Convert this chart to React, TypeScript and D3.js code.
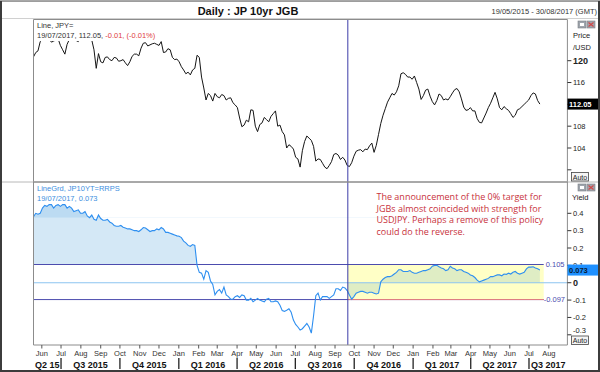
import React from "react";
import * as d3 from "d3";

const W = 600;
const H = 372;

const title = "Daily : JP 10yr JGB";
const rangeLabel = "19/05/2015 - 30/08/2017 (GMT)";

const axisStart = new Date(2015, 4, 19);
const axisEnd = new Date(2017, 7, 30);
const seriesStart = new Date(2015, 4, 19);
const policyDate = new Date(2016, 8, 21);
const bandEnd = new Date(2017, 6, 24);

// USDJPY: weekly closes, plus a mid-week reading between each pair
const priceWeekly = [
  120.7, 121.8, 123.9, 124.5, 123.4, 123.8, 122.8, 121.2, 123.9, 124.2,
  123.5, 124.4, 124.2, 123.8, 118.6, 119.8, 120.6, 120.2, 120.6, 119.9,
  120.2, 119.1, 120.8, 121.2, 122.3, 123.3, 122.9, 123.2, 122.8, 121.5,
  122.2, 120.6, 120.3, 118.9, 117.6, 117.4, 118.6, 120.6, 115.0, 114.0,
  112.6, 113.4, 113.8, 112.8, 113.2, 111.9, 109.5, 108.2, 108.8, 110.9,
  107.0, 108.6, 109.2, 109.8, 110.8, 108.2, 106.4, 104.6, 103.8, 102.0,
  103.5, 106.2, 105.4, 101.6, 101.9, 100.5, 100.8, 102.8, 102.7, 102.3,
  100.8, 101.3, 103.4, 103.7, 103.8, 104.4, 103.2, 106.5, 110.0, 112.4,
  114.0, 114.3, 117.6, 117.5, 117.0, 117.2, 114.8, 113.6, 114.8, 112.5,
  112.7, 113.6, 113.0, 113.4, 114.7, 114.3, 111.5, 111.0, 110.8, 109.4,
  108.6, 110.4, 112.2, 114.2, 111.4, 111.6, 110.9, 109.6, 111.0, 111.6,
  112.4, 113.6, 113.9, 112.05,
];
const priceMidweek = [
  121.5, 123.5, 124.8, 124.0, 123.6, 124.0, 122.0, 123.0, 124.4, 123.7,
  124.0, 124.6, 124.0, 122.0, 121.3, 119.6, 120.7, 120.0, 120.5, 120.0,
  119.6, 119.8, 121.2, 120.9, 123.2, 122.7, 123.1, 123.0, 123.5, 121.6,
  122.0, 120.2, 119.8, 118.3, 117.9, 118.3, 121.0, 117.0, 112.8, 113.6,
  114.0, 113.2, 113.6, 113.1, 112.3, 111.4, 107.9, 109.1, 111.0, 108.0,
  108.3, 109.6, 108.8, 110.3, 108.0, 107.0, 104.0, 104.3, 102.3, 100.5,
  105.2, 105.8, 104.3, 102.0, 101.2, 100.2, 101.5, 103.0, 101.9, 101.8,
  100.6, 102.5, 103.6, 103.3, 103.7, 104.9, 104.5, 108.5, 111.2, 113.2,
  113.7, 115.4, 117.8, 117.0, 116.6, 116.0, 112.9, 114.6, 113.5, 111.9,
  113.9, 112.8, 112.8, 114.1, 114.9, 113.0, 110.9, 111.4, 110.8, 108.7,
  109.5, 111.4, 113.2, 113.0, 111.0, 111.2, 110.3, 110.0, 111.2, 112.0,
  112.8, 114.1, 112.7,
];

// JP 10y yield, same sampling
const yieldWeekly = [
  0.38, 0.395, 0.43, 0.44, 0.45, 0.445, 0.44, 0.45, 0.44, 0.41,
  0.42, 0.4, 0.385, 0.39, 0.36, 0.37, 0.36, 0.35, 0.33, 0.325,
  0.32, 0.31, 0.305, 0.3, 0.305, 0.315, 0.295, 0.3, 0.305, 0.31,
  0.29, 0.28, 0.27, 0.26, 0.23, 0.21, 0.215, 0.06, 0.02, 0.06,
  -0.01, -0.05, -0.06, -0.07, -0.095, -0.08, -0.085, -0.075, -0.1, -0.11,
  -0.09, -0.105, -0.095, -0.11, -0.105, -0.13, -0.165, -0.15, -0.215, -0.255,
  -0.265, -0.235, -0.29, -0.075, -0.1, -0.08, -0.09, -0.07, -0.035, -0.025,
  -0.045, -0.095, -0.06, -0.05, -0.055, -0.055, -0.06, -0.06, 0.02, 0.035,
  0.04, 0.06, 0.075, 0.065, 0.07, 0.055, 0.06, 0.07, 0.075, 0.095,
  0.1, 0.085, 0.07, 0.095, 0.08, 0.075, 0.065, 0.055, 0.04, 0.015,
  0.01, 0.02, 0.035, 0.04, 0.045, 0.05, 0.055, 0.06, 0.055, 0.055,
  0.08, 0.09, 0.085, 0.073,
];
const yieldMidweek = [
  0.4, 0.4, 0.445, 0.45, 0.43, 0.45, 0.45, 0.43, 0.43, 0.415,
  0.4, 0.41, 0.375, 0.365, 0.39, 0.36, 0.365, 0.343, 0.325, 0.33,
  0.315, 0.31, 0.3, 0.295, 0.318, 0.305, 0.3, 0.31, 0.318, 0.29,
  0.285, 0.275, 0.268, 0.24, 0.215, 0.22, 0.1, 0.055, 0.07, 0.01,
  -0.07, -0.04, -0.025, -0.08, -0.095, -0.075, -0.07, -0.1, -0.09, -0.1,
  -0.1, -0.11, -0.09, -0.11, -0.11, -0.16, -0.158, -0.17, -0.24, -0.273,
  -0.25, -0.255, -0.19, -0.06, -0.08, -0.08, -0.08, -0.035, -0.045, -0.03,
  -0.07, -0.08, -0.055, -0.05, -0.06, -0.055, -0.065, 0.005, 0.03, 0.035,
  0.05, 0.075, 0.065, 0.065, 0.06, 0.055, 0.065, 0.07, 0.08, 0.1,
  0.092, 0.08, 0.075, 0.085, 0.07, 0.075, 0.06, 0.045, 0.03, 0.005,
  0.015, 0.025, 0.035, 0.045, 0.04, 0.048, 0.05, 0.065, 0.05, 0.06,
  0.09, 0.092, 0.08,
];

const priceTicks = [120, 116, 112, 108, 104, 100];
const priceTickLabels = ["120", "116", "", "108", "104", ""];
const yieldTicks = [0.4, 0.3, 0.2, 0.1, 0, -0.1, -0.2, -0.3];
const yieldTickLabels = ["0.4", "0.3", "0.2", "0.1", "0", "-0.1", "-0.2", "-0.3"];
const monthLabels = [
  "Jun", "Jul", "Aug", "Sep", "Oct", "Nov", "Dec",
  "Jan", "Feb", "Mar", "Apr", "May", "Jun", "Jul", "Aug", "Sep", "Oct", "Nov", "Dec",
  "Jan", "Feb", "Mar", "Apr", "May", "Jun", "Jul", "Aug",
];
const quarterLabels = [
  "Q2 15", "Q3 2015", "Q4 2015", "Q1 2016", "Q2 2016",
  "Q3 2016", "Q4 2016", "Q1 2017", "Q2 2017", "Q3 2017",
];

const bandHigh = 0.105;
const bandLow = -0.097;
const lastPrice = 112.05;
const lastYield = 0.073;

const annotation = [
  "The announcement of the 0% target for",
  "JGBs almost coincided with strength for",
  "USDJPY. Perhaps a remove of this policy",
  "could do the reverse.",
];

interface Pt {
  date: Date;
  value: number;
}

const font = "'Liberation Sans', Arial, sans-serif";

// weekly + mid-week readings -> one dated series
function toSeries(weekly: number[], mid: number[]): Pt[] {
  const out: Pt[] = [];
  weekly.forEach((v, i) => {
    out.push({ date: d3.timeDay.offset(seriesStart, i * 7), value: v });
    if (i < mid.length) {
      out.push({ date: d3.timeHour.offset(seriesStart, i * 168 + 84), value: mid[i] });
    }
  });
  return out;
}

function IconPair({ y }: { y: number }) {
  return (
    <g>
      <rect x={578} y={y} width={8} height={7} fill="#9ea4ac" stroke="#7a7f86" strokeWidth={0.6} />
      <rect x={580} y={y + 2} width={4} height={3} fill="#fff" />
      <rect x={587} y={y} width={8} height={7} fill="#a4a4ac" stroke="#7a7f86" strokeWidth={0.6} />
      <path d={`M588.5,${y + 1.5}L593.5,${y + 5.5}M593.5,${y + 1.5}L588.5,${y + 5.5}`} stroke="#d04848" strokeWidth={1.2} />
    </g>
  );
}

function AutoBtn({ y }: { y: number }) {
  return (
    <g>
      <rect x={571.5} y={y} width={17} height={8.5} fill="#f4f4f4" stroke="#444" strokeWidth={0.8} />
      <text x={580} y={y + 7} fontSize={7} fontFamily={font} textAnchor="middle" fill="#222">Auto</text>
    </g>
  );
}

export default function App() {
  const L = 33.5;
  const R = 567.4;
  const topA = 19.5;
  const sep = 182;
  const botB = 345;

  const x = d3.scaleTime().domain([axisStart, axisEnd]).range([L, R]);
  const yP = d3.scaleLinear().domain([104, 120]).range([148, 60.7]);
  const yY = d3.scaleLinear().domain([-0.3, 0.4]).range([334.8, 213.3]);

  const priceData = toSeries(priceWeekly, priceMidweek);
  const yieldData = toSeries(yieldWeekly, yieldMidweek);

  const priceLine = d3.line<Pt>().x((d) => x(d.date)).y((d) => yP(d.value));
  const yieldLine = d3.line<Pt>().x((d) => x(d.date)).y((d) => yY(d.value));
  const areaTo = (lvl: number) =>
    d3.area<Pt>().x((d) => x(d.date)).y0(yY(lvl)).y1((d) => yY(d.value));

  const months = d3.timeMonth.range(d3.timeMonth.ceil(axisStart), axisEnd);
  const qStarts = d3.timeMonth.every(3)!.range(axisStart, axisEnd);
  const qEdges = [axisStart, ...qStarts, axisEnd];

  const xPol = x(policyDate);
  const xBandEnd = x(bandEnd);

  return (
    <svg width={W} height={H} style={{ position: "absolute", left: 0, top: 0 }} fontFamily={font}>
      <defs>
        <clipPath id="clipA">
          <rect x={L} y={topA} width={R - L} height={sep - topA} />
        </clipPath>
        <clipPath id="clipHigh">
          <rect x={L} y={sep} width={R - L} height={yY(bandHigh) - sep} />
        </clipPath>
        <clipPath id="clipTop">
          <rect x={L} y={sep} width={R - L} height={yY(0.375) - sep} />
        </clipPath>
        <clipPath id="clipBand">
          <rect x={xPol} y={yY(bandHigh)} width={xBandEnd - xPol} height={yY(bandLow) - yY(bandHigh)} />
        </clipPath>
        <clipPath id="clipB">
          <rect x={L} y={sep} width={R - L} height={botB - sep} />
        </clipPath>
      </defs>
      <rect width={W} height={H} fill="#fff" />

      {/* header */}
      <text x={248} y={15} fontSize={11} fontWeight="bold" textAnchor="middle" fill="#111">{title}</text>
      <text x={597} y={14} fontSize={7.5} textAnchor="end" fill="#333">{rangeLabel}</text>
      <line x1={0} x2={W} y1={18.5} y2={18.5} stroke="#d0d0d0" />

      {/* upper panel */}
      <g clipPath="url(#clipA)">
        <path d={priceLine(priceData) ?? ""} fill="none" stroke="#151515" strokeWidth={1} />
      </g>
      <rect x={L + 0.5} y={topA + 0.5} width={150} height={21} fill="#fff" />
      <text x={37} y={28} fontSize={7.5} fill="#333">Line, JPY=</text>
      <text x={37} y={37.5} fontSize={7.5} fill="#333">
        19/07/2017, 112.05, <tspan fill="#e03c3c">-0.01, (-0.01%)</tspan>
      </text>

      {/* lower panel */}
      <g clipPath="url(#clipB)">
        <rect x={xPol} y={yY(bandHigh)} width={xBandEnd - xPol} height={yY(bandLow) - yY(bandHigh)} fill="#ffffc6" />
        <path d={areaTo(0)(yieldData) ?? ""} fill="#dfedc4" clipPath="url(#clipBand)" />
        <path d={areaTo(bandHigh)(yieldData) ?? ""} fill="#d4e8f6" clipPath="url(#clipHigh)" />
        <path d={areaTo(0.375)(yieldData) ?? ""} fill="#bcdbf2" clipPath="url(#clipTop)" />
        <line x1={L} x2={R} y1={yY(0)} y2={yY(0)} stroke="#8cc4f0" strokeWidth={1.2} />
        <line x1={L} x2={xBandEnd} y1={yY(bandHigh)} y2={yY(bandHigh)} stroke="#4c4cae" strokeWidth={1} />
        <line x1={L} x2={xBandEnd} y1={yY(bandLow)} y2={yY(bandLow)} stroke="#4c4cae" strokeWidth={1} />
        <line x1={xPol} x2={xBandEnd} y1={yY(bandLow)} y2={yY(bandLow)} stroke="#e88080" strokeWidth={1} />
        <path d={yieldLine(yieldData) ?? ""} fill="none" stroke="#2e8ff0" strokeWidth={1.1} />
      </g>
      <text x={xBandEnd + 2} y={yY(bandHigh) + 2.5} fontSize={7.5} fill="#4c4cae">0.105</text>
      <text x={xBandEnd} y={yY(bandLow) + 2.5} fontSize={7.5} fill="#4c4cae">-0.097</text>
      <text x={37} y={191} fontSize={7.5} fill="#3d8fe0">LineGrd, JP10YT=RRPS</text>
      <text x={37} y={201} fontSize={7.5} fill="#3d8fe0">19/07/2017, 0.073</text>

      {annotation.map((t, i) => (
        <text key={i} x={376.5} y={200 + i * 11.7} fontSize={9} fontFamily="'Open Sans', 'Noto Sans', sans-serif" fill="#c8323c">
          {t}
        </text>
      ))}

      {/* policy marker */}
      <line x1={xPol} x2={xPol} y1={topA} y2={botB} stroke="#3c3ca8" strokeWidth={1} />

      {/* frames */}
      <path d={`M${L},${sep}V${topA}H${R}V${sep}`} fill="none" stroke="#8c8c8c" strokeWidth={1} />
      <line x1={0} x2={W} y1={sep} y2={sep} stroke="#b8b8b8" strokeWidth={1} />
      <line x1={L} x2={R} y1={sep} y2={sep} stroke="#777" strokeWidth={1} />
      <path d={`M${L},${sep}V${botB}H${R}V${sep}`} fill="none" stroke="#8c8c8c" strokeWidth={1} />

      {/* price axis */}
      <text x={573} y={38} fontSize={7.5} fill="#222">Price</text>
      <text x={573} y={49.5} fontSize={7.5} fill="#222">/USD</text>
      {priceTicks.map((t, i) => (
        <g key={t}>
          <line x1={R} x2={R + 4} y1={yP(t)} y2={yP(t)} stroke="#333" />
          {priceTickLabels[i] && (
            <text
              x={573}
              y={yP(t) + (i === 0 ? 3.2 : 2.6)}
              fontSize={i === 0 ? 9 : 7.5}
              fontWeight={i === 0 ? "bold" : "normal"}
              fill="#222"
            >
              {priceTickLabels[i]}
            </text>
          )}
        </g>
      ))}
      <rect x={567.5} y={yP(lastPrice) - 5.5} width={32} height={11} fill="#000" />
      <text x={569} y={yP(lastPrice) + 3} fontSize={7.5} fontWeight="bold" fill="#fff">112.05</text>

      {/* yield axis */}
      <text x={572} y={200} fontSize={7.5} fill="#222">Yield</text>
      {yieldTicks.map((t, i) => (
        <g key={t}>
          <line x1={R} x2={R + 4} y1={yY(t)} y2={yY(t)} stroke="#333" />
          <text
            x={573}
            y={yY(t) + (t === 0 ? 3.2 : i === yieldTicks.length - 1 ? -1.5 : 2.6)}
            fontSize={t === 0 ? 9 : 7.5}
            fontWeight={t === 0 ? "bold" : "normal"}
            fill="#222"
          >
            {yieldTickLabels[i]}
          </text>
        </g>
      ))}
      <rect x={567.5} y={yY(lastYield) - 5.5} width={32} height={11} fill="#1e90ff" />
      <text x={569} y={yY(lastYield) + 3} fontSize={7.5} fontWeight="bold" fill="#0a1a30">0.073</text>

      <IconPair y={21} />
      <IconPair y={184} />
      <AutoBtn y={172.5} />
      <AutoBtn y={336} />

      {/* time axis */}
      {months.map((m, i) => (
        <g key={+m}>
          <line x1={x(m)} x2={x(m)} y1={botB} y2={botB + 3.5} stroke="#555" />
          <text x={x(m)} y={356} fontSize={7.5} textAnchor="middle" fill="#333">{monthLabels[i]}</text>
        </g>
      ))}
      {qStarts.map((q) => (
        <line key={+q} x1={x(q)} x2={x(q)} y1={358} y2={369} stroke="#222" strokeWidth={1.3} />
      ))}
      {quarterLabels.map((lab, i) => (
        <text
          key={lab + i}
          x={(x(qEdges[i]) + x(qEdges[i + 1])) / 2}
          y={367.5}
          fontSize={9}
          fontWeight="bold"
          textAnchor="middle"
          fill="#111"
        >
          {lab}
        </text>
      ))}

      {/* outer frame */}
      <rect x={1} y={0.5} width={W - 2} height={H - 1.5} fill="none" stroke="#3c3c3c" strokeWidth={2} />
      <line x1={0} x2={W} y1={0.5} y2={0.5} stroke="#a8a8a8" />
    </svg>
  );
}
